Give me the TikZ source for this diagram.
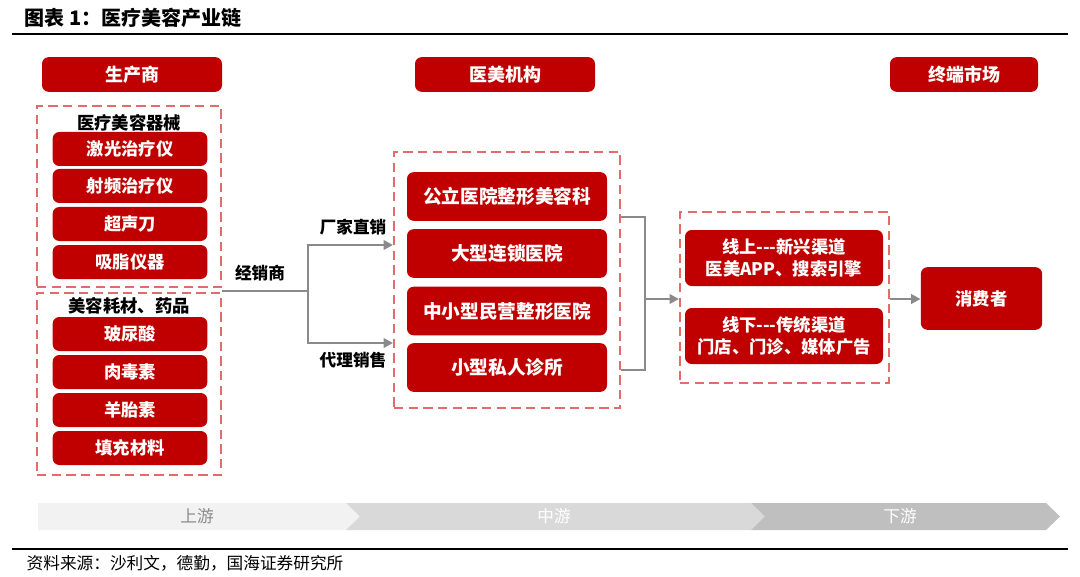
\documentclass[tikz,border=0pt]{standalone}
\usepackage{fontspec}
\setmainfont{Noto Sans CJK SC}
\usetikzlibrary{arrows.meta}
\definecolor{hxred}{HTML}{C00000}
\definecolor{dashred}{HTML}{E36B6B}
\definecolor{flowgray}{HTML}{8A8A8A}
\definecolor{bandA}{HTML}{F2F2F2}
\definecolor{bandB}{HTML}{D9D9D9}
\definecolor{bandC}{HTML}{BFBFBF}

\begin{document}
\begin{tikzpicture}[x=0.75pt,y=-0.75pt,
  cell/.style={fill=hxred,rounded corners=5pt,text=white,inner sep=0pt,align=center,
    font=\bfseries\fontsize{13pt}{16.5pt}\selectfont},
  head/.style={cell,minimum width=135pt,minimum height=26pt,font=\bfseries\fontsize{13.5pt}{16pt}\selectfont},
  leftcell/.style={cell,minimum width=116pt,minimum height=25.5pt},
  midcell/.style={cell,minimum width=150pt,minimum height=36.5pt,font=\bfseries\fontsize{14pt}{16pt}\selectfont},
  rightcell/.style={cell,minimum width=148.5pt,minimum height=42pt},
  dashbox/.style={draw=dashred,line width=1.5pt,dash pattern=on 7pt off 4pt,inner sep=0pt},
  grouplabel/.style={font=\bfseries\fontsize{13pt}{15pt}\selectfont},
  flowlabel/.style={font=\bfseries\fontsize{12.5pt}{15pt}\selectfont},
  flow/.style={draw=flowgray,line width=2pt},
  flowarrow/.style={flow,-{Triangle[length=7pt,width=7pt]}},
  bandtext/.style={font=\fontsize{12.5pt}{14pt}\selectfont}
]
\useasboundingbox (0,0) rectangle (1080,577);

% title and rules
\node[anchor=west,font=\bfseries\fontsize{15pt}{17pt}\selectfont] (title) at (20,18) {图表 1：医疗美容产业链};
\draw[line width=1.5pt] (12,34) -- (1068,34);
\draw[line width=2.2pt] (12,549) -- (1068,549);
\node[anchor=west,font=\fontsize{12.5pt}{14pt}\selectfont] (source) at (22,563) {资料来源：沙利文，德勤，国海证券研究所};

% column heads
\node[head] (maker) at (132,74.5) {生产商};
\node[head] (inst) at (505,74.5) {医美机构};
\node[head,minimum width=111pt] (market) at (964,74.5) {终端市场};

% upstream
\node[dashbox,minimum width=138pt,minimum height=135.5pt] (devices) at (129,196.5) {};
\node[dashbox,minimum width=138pt,minimum height=136.5pt] (consum) at (129,384) {};
\node[grouplabel] (devlabel) at (129,123) {医疗美容器械};
\node[leftcell] (laser) at (130,149) {激光治疗仪};
\node[leftcell] (rf) at (130,186) {射频治疗仪};
\node[leftcell] (hifu) at (130,224) {超声刀};
\node[leftcell] (lipo) at (130,262) {吸脂仪器};
\node[grouplabel] (conlabel) at (129,306) {美容耗材、药品};
\node[leftcell] (ha) at (130,334) {玻尿酸};
\node[leftcell] (botox) at (130,372) {肉毒素};
\node[leftcell] (placenta) at (130,410) {羊胎素};
\node[leftcell] (filler) at (130,448) {填充材料};

% midstream
\node[dashbox,minimum width=169.5pt,minimum height=192pt] (hospitals) at (507,280) {};
\node[midcell] (public) at (507,196.5) {公立医院整形美容科};
\node[midcell] (chain) at (507,253.5) {大型连锁医院};
\node[midcell] (private) at (507,311) {中小型民营整形医院};
\node[midcell] (clinic) at (507,367.5) {小型私人诊所};

% downstream
\node[dashbox,minimum width=156.75pt,minimum height=128.25pt] (channels) at (784.5,297.5) {};
\node[rightcell] (online) at (784,258) {线上{-}{-}{-}新兴渠道\\医美APP、搜索引擎};
\node[rightcell] (offline) at (784,336) {线下{-}{-}{-}传统渠道\\门店、门诊、媒体广告};
\node[cell,minimum width=91pt,minimum height=47pt] (buyer) at (981.5,298.5) {消费者};

% flows
\coordinate (split) at (308,291);
\draw[flow] (devices.east |- split) -- (split);
\draw[flowarrow] (split) |- (hospitals.west |- 0,245);
\draw[flowarrow] (split) |- (hospitals.west |- 0,343);
\node[flowlabel] (dealer) at (260,273) {经销商};
\node[flowlabel] (direct) at (353,227) {厂家直销};
\node[flowlabel] (agent) at (353,360) {代理销售};

\coordinate (merge) at (645,299);
\draw[flow] (hospitals.east |- 0,217) -| (merge) |- (hospitals.east |- 0,370);
\draw[flowarrow] (merge) -- (channels.west |- merge);
\draw[flowarrow] (channels.east |- merge) -- (buyer.west |- merge);

% chain band
\fill[bandA] (38,503) -- (346,503) -- (360,516.5) -- (346,530) -- (38,530) -- cycle;
\fill[bandB] (346,503) -- (751,503) -- (765,516.5) -- (751,530) -- (346,530) -- (360,516.5) -- cycle;
\fill[bandC] (751,503) -- (1046,503) -- (1060,516.5) -- (1046,530) -- (751,530) -- (765,516.5) -- cycle;
\node[bandtext,text=flowgray] (up) at (197,516.5) {上游};
\node[bandtext,text=white] (mid) at (554,516.5) {中游};
\node[bandtext,text=white] (down) at (900,516.5) {下游};
\end{tikzpicture}
\end{document}
